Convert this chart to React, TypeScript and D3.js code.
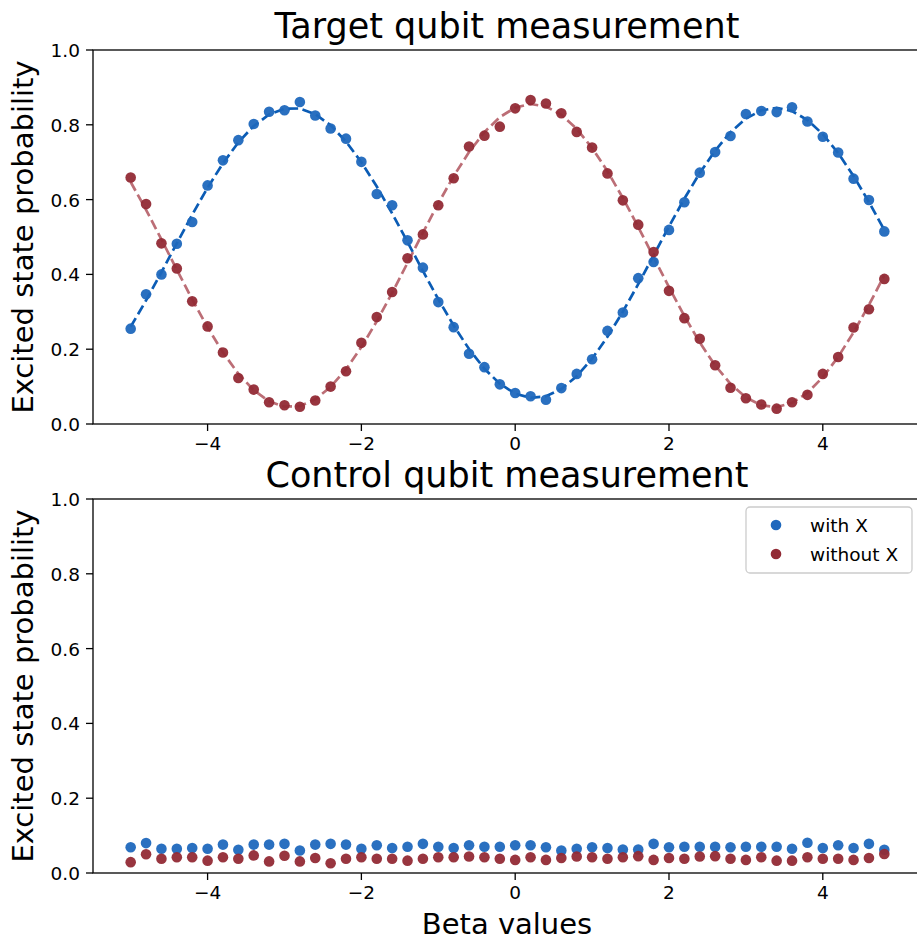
import React from "react";
import * as d3 from "d3";

const BETA: number[] = Array.from({ length: 50 }, (_, i) => Math.round((-5 + i * 0.2) * 10) / 10);

const TARGET_WITH_X = [
  0.255, 0.347, 0.40, 0.482, 0.540, 0.638, 0.705, 0.759, 0.802, 0.835,
  0.839, 0.861, 0.825, 0.790, 0.763, 0.701, 0.615, 0.585, 0.491, 0.418,
  0.326, 0.259, 0.188, 0.152, 0.106, 0.083, 0.074, 0.065, 0.096, 0.134,
  0.173, 0.249, 0.298, 0.390, 0.433, 0.519, 0.593, 0.672, 0.727, 0.770,
  0.829, 0.837, 0.834, 0.847, 0.809, 0.768, 0.726, 0.656, 0.599, 0.515,
];
const TARGET_WITHOUT_X = [
  0.659, 0.588, 0.483, 0.416, 0.328, 0.261, 0.191, 0.123, 0.092, 0.058,
  0.050, 0.046, 0.063, 0.100, 0.141, 0.217, 0.286, 0.353, 0.443, 0.507,
  0.585, 0.657, 0.742, 0.771, 0.795, 0.844, 0.866, 0.857, 0.831, 0.781,
  0.739, 0.670, 0.598, 0.533, 0.460, 0.356, 0.283, 0.228, 0.157, 0.097,
  0.069, 0.052, 0.041, 0.058, 0.078, 0.134, 0.179, 0.258, 0.307, 0.388,
];
const CONTROL_WITH_X = [
  0.069, 0.080, 0.065, 0.065, 0.067, 0.065, 0.076, 0.062, 0.076, 0.076,
  0.078, 0.060, 0.076, 0.078, 0.076, 0.065, 0.074, 0.067, 0.070, 0.078,
  0.070, 0.067, 0.074, 0.070, 0.070, 0.074, 0.074, 0.069, 0.060, 0.065,
  0.069, 0.067, 0.063, 0.063, 0.078, 0.069, 0.070, 0.070, 0.070, 0.069,
  0.070, 0.070, 0.070, 0.065, 0.081, 0.067, 0.074, 0.067, 0.078, 0.062,
];
const CONTROL_WITHOUT_X = [
  0.029, 0.050, 0.038, 0.042, 0.042, 0.033, 0.042, 0.038, 0.047, 0.031,
  0.046, 0.031, 0.040, 0.026, 0.038, 0.042, 0.038, 0.038, 0.033, 0.038,
  0.042, 0.042, 0.044, 0.042, 0.038, 0.035, 0.042, 0.035, 0.040, 0.044,
  0.042, 0.038, 0.042, 0.045, 0.035, 0.040, 0.038, 0.044, 0.045, 0.038,
  0.035, 0.042, 0.033, 0.033, 0.042, 0.038, 0.038, 0.035, 0.040, 0.051,
];

const X_TICKS = [-4, -2, 0, 2, 4];
const Y_TICKS = [0, 0.2, 0.4, 0.6, 0.8, 1.0];
const TITLES = ["Target qubit measurement", "Control qubit measurement"];
const SERIES_LABELS = ["with X", "without X"];
const Y_LABEL = "Excited state probability";
const X_LABEL = "Beta values";

const COL_WITH = "#1f68bd";
const COL_WITHOUT = "#922a35";
const FIT_WITH = "#0b5cb5";
const FIT_WITHOUT = "#bc6e76";

// least-squares fit of y = a + b cos x + c sin x
function fitCos(xs: number[], ys: number[]): number[] {
  const rows = xs.map((x) => [1, Math.cos(x), Math.sin(x)]);
  const A = [0, 1, 2].map((i) => [0, 1, 2].map((j) => d3.sum(rows, (r) => r[i] * r[j])));
  const B = [0, 1, 2].map((i) => d3.sum(rows, (r, k) => r[i] * ys[k]));
  const M = A.map((r, i) => [...r, B[i]]);
  for (let i = 0; i < 3; i++) {
    for (let k = i + 1; k < 3; k++) {
      const f = M[k][i] / M[i][i];
      for (let j = i; j < 4; j++) M[k][j] -= f * M[i][j];
    }
  }
  const sol = [0, 0, 0];
  for (let i = 2; i >= 0; i--) {
    let s = M[i][3];
    for (let j = i + 1; j < 3; j++) s -= M[i][j] * sol[j];
    sol[i] = s / M[i][i];
  }
  return xs.map((x) => sol[0] + sol[1] * Math.cos(x) + sol[2] * Math.sin(x));
}

const FONT = "DejaVu Sans, Verdana, sans-serif";
const TICK_FS = 18.5;

const x = d3.scaleLinear().domain([-5.49, 5.29]).range([93, 922]);

function Panel({ top, title, withY, withoutY, fit, legend }: any) {
  const y = d3.scaleLinear().domain([0, 1]).range([top + 374, top]);
  const bottom = top + 374;
  const line = d3
    .line<number>()
    .x((_, i) => x(BETA[i]))
    .y((d) => y(d));
  const fitWith = fit ? fitCos(BETA, withY) : null;
  const fitWithout = fit ? fitCos(BETA, withoutY) : null;
  return (
    <g>
      <text x={507} y={top - 12} textAnchor="middle" fontSize={35} fontFamily={FONT}>
        {title}
      </text>
      <text
        transform={`translate(33,${top + 187}) rotate(-90)`}
        textAnchor="middle"
        fontSize={29}
        fontFamily={FONT}
      >
        {Y_LABEL}
      </text>
      {fitWith && (
        <path d={line(fitWith) || ""} fill="none" stroke={FIT_WITH} strokeWidth={2.7} strokeDasharray="10,4.5" />
      )}
      {fitWithout && (
        <path d={line(fitWithout) || ""} fill="none" stroke={FIT_WITHOUT} strokeWidth={2.7} strokeDasharray="10,4.5" />
      )}
      {withY.map((v: number, i: number) => (
        <circle key={"w" + i} cx={x(BETA[i])} cy={y(v)} r={5.3} fill={COL_WITH} fillOpacity={0.95} />
      ))}
      {withoutY.map((v: number, i: number) => (
        <circle key={"o" + i} cx={x(BETA[i])} cy={y(v)} r={5.3} fill={COL_WITHOUT} fillOpacity={0.95} />
      ))}
      <rect x={93} y={top} width={x(5.29) - 93} height={374} fill="none" stroke="#000" strokeWidth={1.3} />
      {X_TICKS.map((t) => (
        <g key={t}>
          <line x1={x(t)} x2={x(t)} y1={bottom} y2={bottom + 7} stroke="#000" strokeWidth={1.3} />
          <text x={x(t)} y={bottom + 26} textAnchor="middle" fontSize={TICK_FS} fontFamily={FONT}>
            {t < 0 ? "\u2212" + Math.abs(t) : String(t)}
          </text>
        </g>
      ))}
      {Y_TICKS.map((t) => (
        <g key={t}>
          <line x1={86} x2={93} y1={y(t)} y2={y(t)} stroke="#000" strokeWidth={1.3} />
          <text x={80} y={y(t) + 7} textAnchor="end" fontSize={TICK_FS} fontFamily={FONT}>
            {t.toFixed(1)}
          </text>
        </g>
      ))}
      {legend && (
        <g>
          <rect x={746} y={507} width={166} height={66} rx={4} fill="#fff" fillOpacity={0.8} stroke="#cccccc" strokeWidth={1.3} />
          <circle cx={776} cy={525} r={5.3} fill={COL_WITH} />
          <text x={810} y={532} fontSize={TICK_FS} fontFamily={FONT}>{SERIES_LABELS[0]}</text>
          <circle cx={776} cy={554} r={5.3} fill={COL_WITHOUT} />
          <text x={810} y={561} fontSize={TICK_FS} fontFamily={FONT}>{SERIES_LABELS[1]}</text>
        </g>
      )}
    </g>
  );
}

export default function App() {
  return (
    <svg
      width={917}
      height={941}
      style={{ position: "absolute", left: 0, top: 0, background: "#fff" }}
    >
      <rect width={917} height={941} fill="#fff" />
      <Panel top={50} title={TITLES[0]} withY={TARGET_WITH_X} withoutY={TARGET_WITHOUT_X} fit={true} />
      <Panel top={499} title={TITLES[1]} withY={CONTROL_WITH_X} withoutY={CONTROL_WITHOUT_X} fit={false} legend={true} />
      <text x={507} y={934} textAnchor="middle" fontSize={29} fontFamily={FONT}>
        {X_LABEL}
      </text>
    </svg>
  );
}
